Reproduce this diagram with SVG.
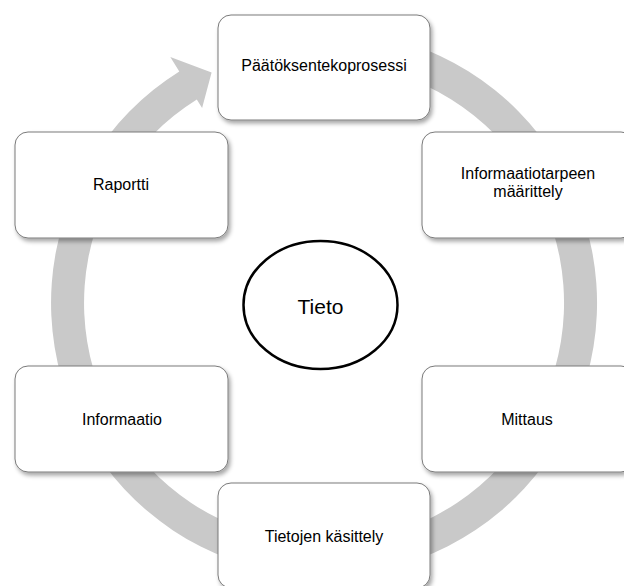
<svg xmlns="http://www.w3.org/2000/svg" width="624" height="586" viewBox="0 0 624 586">
  <style>
    .box { fill: #ffffff; stroke: #7a7a7a; stroke-width: 1; filter: url(#shadow); }
    .label { font-family: "Liberation Sans", Arial, sans-serif; font-size: 16px; fill: #000000; text-anchor: middle; }
    .core { fill: #ffffff; stroke: #000000; stroke-width: 2.5; }
    .core-label { font-family: "Liberation Sans", Arial, sans-serif; font-size: 21px; fill: #000000; text-anchor: middle; }
    .cycle { fill: #c9c9c9; }
  </style>
  <defs>
    <filter id="shadow" x="-10%" y="-10%" width="125%" height="130%">
      <feDropShadow dx="2" dy="3" stdDeviation="2" flood-color="#000000" flood-opacity="0.35"/>
    </filter>
  </defs>

  <rect width="624" height="586" fill="#ffffff"/>

  <!-- circular process arrow running clockwise behind the steps -->
  <g id="connectors">
    <path class="cycle" d="M 347.8 31.0 A 273 273 0 1 1 179.3 71.5 L 170.3 57.1 L 211.6 72.5 L 202.1 108.0 L 196.8 99.5 A 240 240 0 1 0 344.9 63.9 Z"/>
  </g>

  <g id="paatoksenteko">
    <rect class="box" x="218" y="15" width="212" height="105" rx="13"/>
    <text class="label" x="324" y="71">Päätöksentekoprosessi</text>
  </g>

  <g id="informaatiotarve">
    <rect class="box" x="422" y="132" width="212" height="106" rx="13"/>
    <text class="label" x="528" y="179">Informaatiotarpeen</text>
    <text class="label" x="528" y="197">määrittely</text>
  </g>

  <g id="mittaus">
    <rect class="box" x="422" y="366" width="212" height="106" rx="13"/>
    <text class="label" x="527" y="425">Mittaus</text>
  </g>

  <g id="tietojen-kasittely">
    <rect class="box" x="218" y="483" width="212" height="105" rx="13"/>
    <text class="label" x="324" y="542">Tietojen käsittely</text>
  </g>

  <g id="informaatio">
    <rect class="box" x="15" y="366" width="213" height="106" rx="13"/>
    <text class="label" x="122" y="425">Informaatio</text>
  </g>

  <g id="raportti">
    <rect class="box" x="15" y="132" width="213" height="106" rx="13"/>
    <text class="label" x="121" y="190">Raportti</text>
  </g>

  <g id="tieto">
    <ellipse class="core" cx="320.5" cy="305" rx="77" ry="64"/>
    <text class="core-label" x="320.5" y="314">Tieto</text>
  </g>
</svg>
